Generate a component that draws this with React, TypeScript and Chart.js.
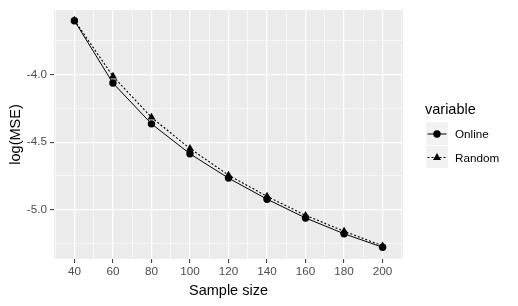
import React, { useEffect, useRef } from 'react';
import { Chart, registerables } from 'chart.js';

Chart.register(...registerables);

const sampleSizes = [40, 60, 80, 100, 120, 140, 160, 180, 200];
const onlineMSE = [-3.600, -4.062, -4.364, -4.586, -4.766, -4.922, -5.061, -5.178, -5.278];
const randomMSE = [-3.597, -4.011, -4.316, -4.547, -4.744, -4.901, -5.042, -5.159, -5.268];

const xMajorTicks = [40, 60, 80, 100, 120, 140, 160, 180, 200];
const xMinorTicks = [30, 50, 70, 90, 110, 130, 150, 170, 190, 210];
const yMajorTicks = [-5.0, -4.5, -4.0];
const yMinorTicks = [-5.25, -4.75, -4.25, -3.75];

const seriesNames = ['Online', 'Random'];
const legendTitle = 'variable';
const xTitle = 'Sample size';
const yTitle = 'log(MSE)';

const FONT = '"Liberation Sans", Arial, sans-serif';

const panelBg = {
  id: 'panelBg',
  beforeDraw(chart: any) {
    const { ctx, chartArea } = chart;
    if (!chartArea) return;
    ctx.save();
    ctx.fillStyle = '#EBEBEB';
    ctx.fillRect(chartArea.left, chartArea.top, chartArea.right - chartArea.left, chartArea.bottom - chartArea.top);
    ctx.restore();
  },
};

const isMajor = (list: number[], v: number) => list.some((m) => Math.abs(m - v) < 1e-9);

export default function App() {
  const canvasRef = useRef<HTMLCanvasElement | null>(null);

  useEffect(() => {
    const canvas = canvasRef.current;
    if (!canvas) return;
    const chart = new Chart(canvas, {
      type: 'line',
      data: {
        datasets: [
          {
            label: seriesNames[0],
            data: sampleSizes.map((x, i) => ({ x, y: onlineMSE[i] })),
            borderColor: '#000000',
            backgroundColor: '#000000',
            borderWidth: 1,
            pointStyle: 'circle',
            pointRadius: 3.7,
            pointBorderWidth: 0,
            tension: 0,
          },
          {
            label: seriesNames[1],
            data: sampleSizes.map((x, i) => ({ x, y: randomMSE[i] })),
            borderColor: '#000000',
            backgroundColor: '#000000',
            borderWidth: 1.1,
            borderDash: [2, 2],
            pointStyle: 'triangle',
            pointRadius: 4.5,
            pointBorderWidth: 0,
            tension: 0,
          },
        ],
      },
      options: {
        animation: false,
        responsive: false,
        events: [],
        layout: { padding: { top: 7, right: 115, bottom: 0, left: 0 } },
        plugins: { legend: { display: false }, tooltip: { enabled: false } },
        scales: {
          x: {
            type: 'linear',
            min: 29.4,
            max: 210.6,
            afterBuildTicks: (s: any) => {
              s.ticks = [...xMinorTicks, ...xMajorTicks].sort((a, b) => a - b).map((v) => ({ value: v }));
            },
            afterFit: (s: any) => {
              s.height = 47;
            },
            ticks: {
              autoSkip: false,
              maxRotation: 0,
              padding: 2,
              color: '#4D4D4D',
              font: { family: FONT, size: 11.7 },
              callback: (v: any) => (isMajor(xMajorTicks, Number(v)) ? String(v) : ''),
            },
            grid: {
              color: '#FFFFFF',
              lineWidth: (c: any) => (c.tick && isMajor(xMajorTicks, c.tick.value) ? 1.2 : 0.6),
              tickColor: (c: any) => (c.tick && isMajor(xMajorTicks, c.tick.value) ? '#333333' : 'rgba(0,0,0,0)'),
              tickLength: 4,
              tickWidth: 1,
            },
            border: { display: false },
            title: {
              display: true,
              text: xTitle,
              color: '#000000',
              font: { family: FONT, size: 14.5 },
              padding: { top: 0, bottom: 6.5 },
            },
          },
          y: {
            type: 'linear',
            min: -5.365,
            max: -3.521,
            afterBuildTicks: (s: any) => {
              s.ticks = [...yMinorTicks, ...yMajorTicks].sort((a, b) => a - b).map((v) => ({ value: v }));
            },
            afterFit: (s: any) => {
              s.width = 54;
            },
            ticks: {
              autoSkip: false,
              padding: 3,
              color: '#4D4D4D',
              font: { family: FONT, size: 11.7 },
              callback: (v: any) => (isMajor(yMajorTicks, Number(v)) ? Number(v).toFixed(1) : ''),
            },
            grid: {
              color: '#FFFFFF',
              lineWidth: (c: any) => (c.tick && isMajor(yMajorTicks, c.tick.value) ? 1.2 : 0.6),
              tickColor: (c: any) => (c.tick && isMajor(yMajorTicks, c.tick.value) ? '#333333' : 'rgba(0,0,0,0)'),
              tickLength: 4,
              tickWidth: 1,
            },
            border: { display: false },
            title: {
              display: true,
              text: yTitle,
              color: '#000000',
              font: { family: FONT, size: 14.5 },
              padding: { top: 7.5, bottom: 0 },
            },
          },
        },
      },
      plugins: [panelBg],
    } as any);
    return () => chart.destroy();
  }, []);

  const labelStyle: React.CSSProperties = {
    position: 'absolute',
    left: 455,
    font: `11.7px ${FONT}`,
    color: '#000000',
    lineHeight: '14px',
    whiteSpace: 'nowrap',
  };

  return (
    <div style={{ position: 'fixed', left: 0, top: 0, width: 518, height: 306, background: '#FFFFFF', overflow: 'hidden' }}>
      <canvas ref={canvasRef} width={518} height={306} style={{ position: 'absolute', left: 0, top: 0, width: 518, height: 306 }} />
      <div style={{ position: 'absolute', left: 425, top: 100.5, font: `14.5px ${FONT}`, color: '#000000', lineHeight: '17px', whiteSpace: 'nowrap' }}>
        {legendTitle}
      </div>
      <svg width={24} height={48} style={{ position: 'absolute', left: 426, top: 121.5 }}>
        <rect x={0} y={0} width={22} height={23} fill="#F2F2F2" />
        <rect x={0} y={24} width={22} height={22} fill="#F2F2F2" />
        <line x1={1.5} y1={12} x2={20.5} y2={12} stroke="#000000" strokeWidth={1} />
        <circle cx={11} cy={12} r={3.7} fill="#000000" />
        <line x1={1.5} y1={35.5} x2={20.5} y2={35.5} stroke="#000000" strokeWidth={1} strokeDasharray="2 2" />
        <polygon points="11,31 15,38 7,38" fill="#000000" />
      </svg>
      <div style={{ ...labelStyle, top: 127 }}>{seriesNames[0]}</div>
      <div style={{ ...labelStyle, top: 150.5 }}>{seriesNames[1]}</div>
    </div>
  );
}
